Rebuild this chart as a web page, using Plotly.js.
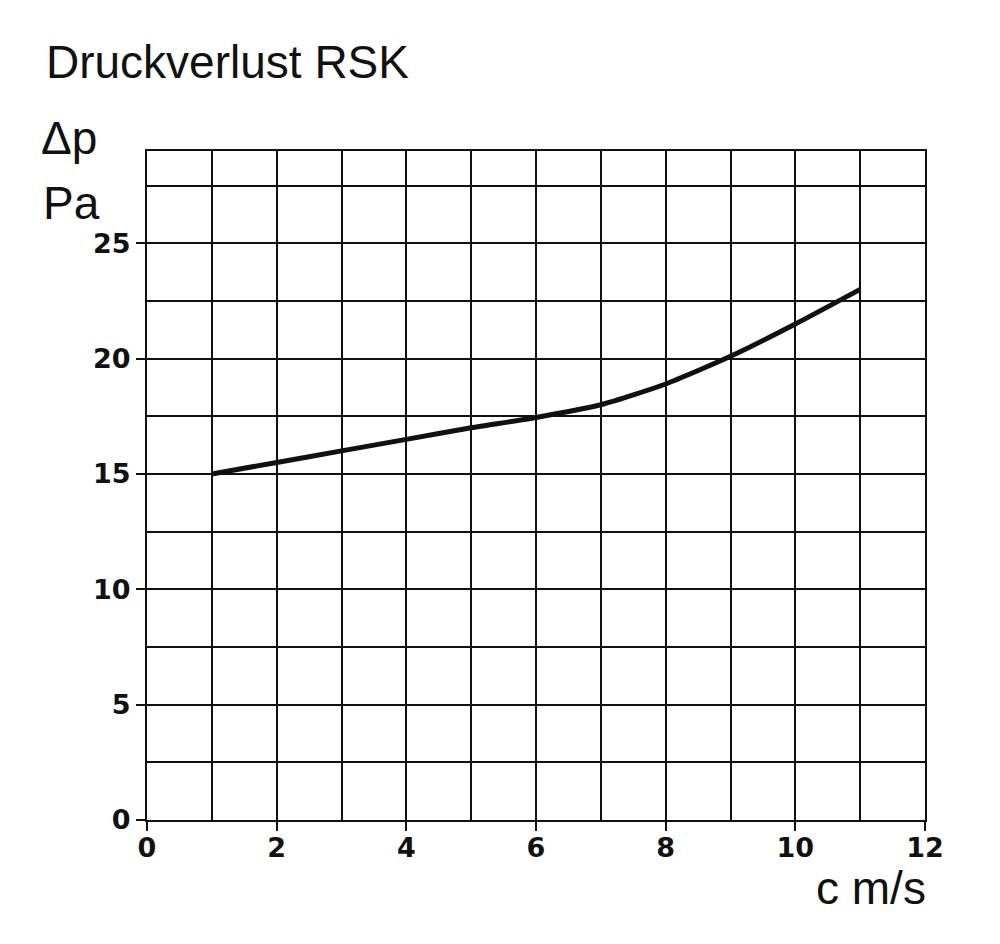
<!DOCTYPE html>
<html>
<head>
<meta charset="utf-8">
<script src="https://cdn.plot.ly/plotly-3.0.1.min.js"></script>
<style>html,body{margin:0;padding:0;background:#fff;}</style>
</head>
<body>
<div id="chart" style="width:1000px;height:944px;"></div>
<script>
// Data
const velocity = [1, 2, 3, 4, 5, 6, 7, 8, 9, 10, 11];            // c in m/s
const pressureLoss = [15.0, 15.5, 16.0, 16.5, 17.0, 17.45, 18.0, 18.9, 20.1, 21.5, 23.0]; // Δp in Pa
const xTickVals = [0, 2, 4, 6, 8, 10, 12];
const yTickVals = [0, 5, 10, 15, 20, 25];
const titleText = 'Druckverlust RSK';
const yLabel1 = 'Δp';
const yLabel2 = 'Pa';
const xLabel = 'c m/s';

const ink = '#111';
const tickFont = {family: 'DejaVu Sans', size: 27, color: ink, weight: 'bold'};
const labelFont = {family: 'Liberation Sans, Arial, Helvetica', size: 46, color: ink};

const trace = {
  x: velocity,
  y: pressureLoss,
  type: 'scatter',
  mode: 'lines',
  line: {color: ink, width: 5, shape: 'spline', smoothing: 0.6},
  hoverinfo: 'x+y'
};

const layout = {
  width: 1000,
  height: 944,
  margin: {l: 147, r: 75, t: 151, b: 124},
  paper_bgcolor: '#fff',
  plot_bgcolor: '#fff',
  showlegend: false,
  xaxis: {
    range: [0, 12],
    tickmode: 'array',
    tickvals: xTickVals,
    ticktext: xTickVals.map(String),
    ticks: 'outside',
    ticklen: 9,
    tickwidth: 2,
    tickcolor: ink,
    tickfont: tickFont,
    ticklabelstandoff: -6,
    showgrid: true,
    gridcolor: ink,
    gridwidth: 2,
    minor: {dtick: 1, tick0: 0, showgrid: true, gridcolor: ink, gridwidth: 2, ticks: ''},
    showline: true,
    linecolor: ink,
    linewidth: 2,
    mirror: true,
    zeroline: false,
    fixedrange: true
  },
  yaxis: {
    range: [0, 29],
    tickmode: 'array',
    tickvals: yTickVals,
    ticktext: yTickVals.map(String),
    ticks: 'outside',
    ticklen: 9,
    tickwidth: 2,
    tickcolor: ink,
    tickfont: tickFont,
    showgrid: true,
    gridcolor: ink,
    gridwidth: 2,
    minor: {dtick: 2.5, tick0: 0, showgrid: true, gridcolor: ink, gridwidth: 2, ticks: ''},
    showline: true,
    linecolor: ink,
    linewidth: 2,
    mirror: true,
    zeroline: false,
    fixedrange: true
  },
  annotations: [
    {text: titleText, xref: 'paper', yref: 'paper', x: -0.1324, y: 1.0912,
     xanchor: 'left', yanchor: 'bottom', showarrow: false, font: labelFont},
    {text: yLabel1, xref: 'paper', yref: 'paper', x: -0.1388, y: 0.9776,
     xanchor: 'left', yanchor: 'bottom', showarrow: false, font: labelFont},
    {text: yLabel2, xref: 'paper', yref: 'paper', x: -0.1362, y: 0.8804,
     xanchor: 'left', yanchor: 'bottom', showarrow: false, font: labelFont},
    {text: xLabel, xref: 'paper', yref: 'paper', x: 1.0039, y: -0.1435,
     xanchor: 'right', yanchor: 'bottom', showarrow: false,
     font: {family: labelFont.family, size: 46, color: ink}}
  ]
};

Plotly.newPlot('chart', [trace], layout, {displayModeBar: false, staticPlot: true});
</script>
</body>
</html>
